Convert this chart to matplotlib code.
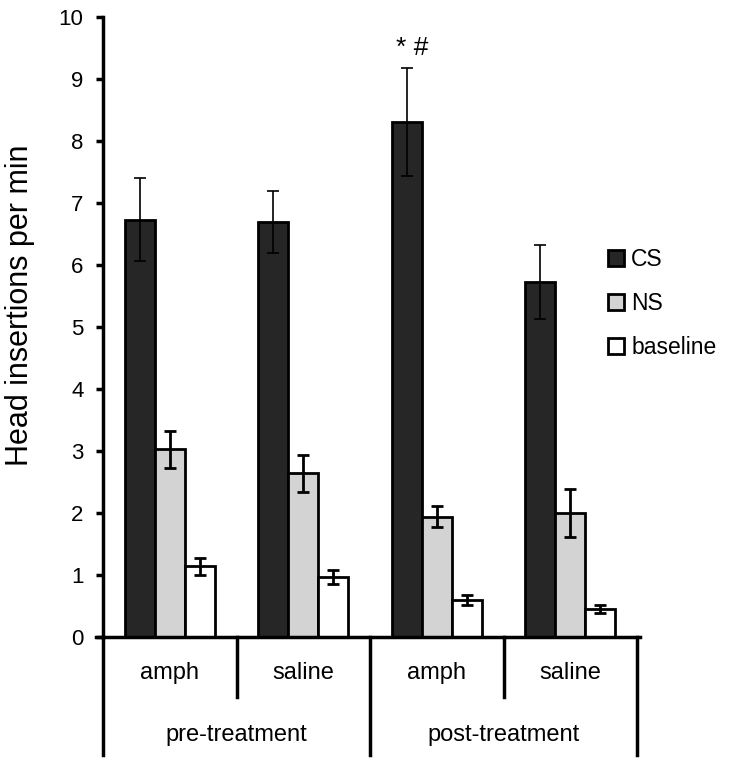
import numpy as np
import matplotlib
matplotlib.use("Agg")
import matplotlib.pyplot as plt
from matplotlib.patches import Patch

plt.rcParams['font.family'] = ['Liberation Sans', 'DejaVu Sans']

conditions = ["amph", "saline", "amph", "saline"]
phases = ["pre-treatment", "post-treatment"]
series = ["CS", "NS", "baseline"]

cs = [6.73, 6.69, 8.31, 5.73]
cs_err = [0.67, 0.50, 0.87, 0.60]
ns = [3.03, 2.64, 1.94, 2.00]
ns_err = [0.30, 0.30, 0.17, 0.38]
base = [1.14, 0.97, 0.60, 0.45]
base_err = [0.14, 0.11, 0.08, 0.07]

colors = ["#262626", "#d3d3d3", "#ffffff"]

fig = plt.figure(figsize=(7.29, 7.67), dpi=100)
ax = fig.add_axes([0.1413, 0.1695, 0.7325, 0.8083])

x = np.arange(4) + 0.5
w = 0.225
vals = [cs, ns, base]
errs = [cs_err, ns_err, base_err]
elw = [1.2, 2.0, 2.0]
for i in range(3):
    pos = x + (i - 1) * w
    ax.bar(pos, vals[i], width=w, color=colors[i], edgecolor="black",
           linewidth=2, zorder=2)
    ax.errorbar(pos, vals[i], yerr=errs[i], fmt="none", ecolor="black",
                elinewidth=elw[i], capsize=4, capthick=elw[i], zorder=3)

ax.set_xlim(0, 4)
ax.set_ylim(0, 10)
ax.set_yticks(range(0, 11))
ax.tick_params(axis="y", direction="out", length=5, width=2.5, labelsize=16, pad=9)
ax.set_xticks([])
for s in ["top", "right", "bottom"]:
    ax.spines[s].set_visible(False)
ax.spines["left"].set_linewidth(2.5)
ax.set_ylabel("Head insertions per min", fontsize=22)
ax.yaxis.set_label_coords(-0.127, 0.535)

# x axis line, slightly extended
ax.plot([-0.05, 4.02], [0, 0], color="black", lw=2.5, clip_on=False, zorder=4)

# category separators below the axis
tr = ax.get_xaxis_transform()
for xv, yb in zip([0, 1, 2, 3, 4], [-0.19, -0.097, -0.19, -0.097, -0.19]):
    ax.plot([xv, xv], [0, yb], color="black", lw=2.5, transform=tr, clip_on=False)
for xi, lab in zip(x, conditions):
    ax.text(xi, -0.058, lab, transform=tr, ha="center", va="center", fontsize=17)
for xi, lab in zip([1.0, 3.0], phases):
    ax.text(xi, -0.158, lab, transform=tr, ha="center", va="center", fontsize=17)

# significance markers
ax.text(2.315, 9.38, "* #", ha="center", va="baseline", fontsize=19)

handles = [Patch(facecolor=c, edgecolor="black", linewidth=2) for c in colors]
ax.legend(handles, series, loc="upper left", bbox_to_anchor=(0.806, 0.703),
          bbox_transform=fig.transFigure, frameon=False, fontsize=16.5,
          handlelength=0.7, handleheight=0.7, handletextpad=0.3,
          labelspacing=0.9)

fig.savefig("out.png", dpi=100)
